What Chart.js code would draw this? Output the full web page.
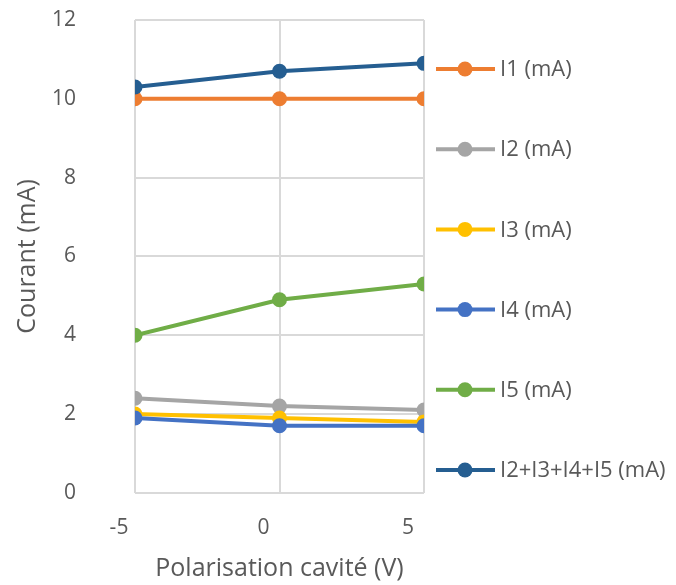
<!DOCTYPE html>
<html>
<head>
<meta charset="utf-8">
<script src="https://cdn.jsdelivr.net/npm/chart.js@4.4.1/dist/chart.umd.min.js"></script>
<style>
  html, body { margin: 0; padding: 0; background: #fff; }
  #wrap { width: 676px; height: 585px; }
</style>
</head>
<body>
<div id="wrap"><canvas id="myChart"></canvas></div>
<script>
  "use strict";
  // data
  const xValues = [-5, 0, 5];
  const seriesNames = ["I1 (mA)", "I2 (mA)", "I3 (mA)", "I4 (mA)", "I5 (mA)", "I2+I3+I4+I5 (mA)"];
  const i1 = [10, 10, 10];
  const i2 = [2.4, 2.2, 2.1];
  const i3 = [2.0, 1.9, 1.8];
  const i4 = [1.9, 1.7, 1.7];
  const i5 = [4.0, 4.9, 5.3];
  const iSum = [10.3, 10.7, 10.9];
  const colors = ["#ED7D31", "#A5A5A5", "#FFC000", "#4472C4", "#70AD47", "#255E91"];

  const allSeries = [i1, i2, i3, i4, i5, iSum];
  const FONT = "'Open Sans', sans-serif";
  const TEXT = "#595959";

  const datasets = allSeries.map((vals, i) => ({
    label: seriesNames[i],
    data: vals.map((v, j) => ({ x: xValues[j], y: v })),
    borderColor: colors[i],
    backgroundColor: colors[i],
    pointBackgroundColor: colors[i],
    pointBorderWidth: 0,
    pointRadius: 7.5,
    borderWidth: 4,
    tension: 0,
    order: allSeries.length - i, // later series on top, like the original
  }));

  // legend spread down the right side
  const sideLegend = {
    id: "sideLegend",
    afterDraw(chart) {
      const ctx = chart.ctx;
      const area = chart.chartArea;
      ctx.save();
      ctx.font = "22px " + FONT;
      ctx.textBaseline = "middle";
      ctx.textAlign = "left";
      seriesNames.forEach((name, i) => {
        const y = area.top + 49 + i * 80.2;
        const x0 = area.right + 12;
        ctx.strokeStyle = colors[i];
        ctx.lineWidth = 4;
        ctx.beginPath();
        ctx.moveTo(x0, y);
        ctx.lineTo(x0 + 59, y);
        ctx.stroke();
        ctx.fillStyle = colors[i];
        ctx.beginPath();
        ctx.arc(x0 + 29, y, 7.5, 0, Math.PI * 2);
        ctx.fill();
        ctx.fillStyle = TEXT;
        ctx.fillText(name, x0 + 64, y + 1);
      });
      ctx.restore();
    },
  };

  const ctx = document.getElementById("myChart").getContext("2d");
  new Chart(ctx, {
    type: "line",
    data: { datasets: datasets },
    plugins: [sideLegend],
    options: {
      responsive: true,
      maintainAspectRatio: false,
      animation: false,
      layout: { padding: { top: 20, right: 252, bottom: 1, left: 13 } },
      plugins: {
        legend: { display: false },
        tooltip: { enabled: false },
      },
      scales: {
        x: {
          type: "linear",
          min: -5,
          max: 5,
          ticks: {
            stepSize: 5,
            color: TEXT,
            font: { family: FONT, size: 21 },
            padding: 3,
            labelOffset: -16,
          },
          grid: { color: "#D9D9D9", lineWidth: 2, tickLength: 20, tickColor: "rgba(0,0,0,0)" },
          border: { display: false },
          title: {
            display: true,
            text: "Polarisation cavité (V)",
            color: TEXT,
            font: { family: FONT, size: 25 },
            padding: { top: 10, bottom: 0 },
          },
        },
        y: {
          min: 0,
          max: 12,
          afterFit(scale) {
            scale.width = 122;
          },
          ticks: {
            stepSize: 2,
            color: TEXT,
            font: { family: FONT, size: 21 },
            padding: 4,
          },
          grid: { color: "#D9D9D9", lineWidth: 2, tickLength: 55, tickColor: "rgba(0,0,0,0)" },
          border: { display: false },
          title: {
            display: true,
            text: "Courant (mA)",
            color: TEXT,
            font: { family: FONT, size: 25 },
            padding: { top: 0, bottom: 0 },
          },
        },
      },
    },
  });
</script>
</body>
</html>
